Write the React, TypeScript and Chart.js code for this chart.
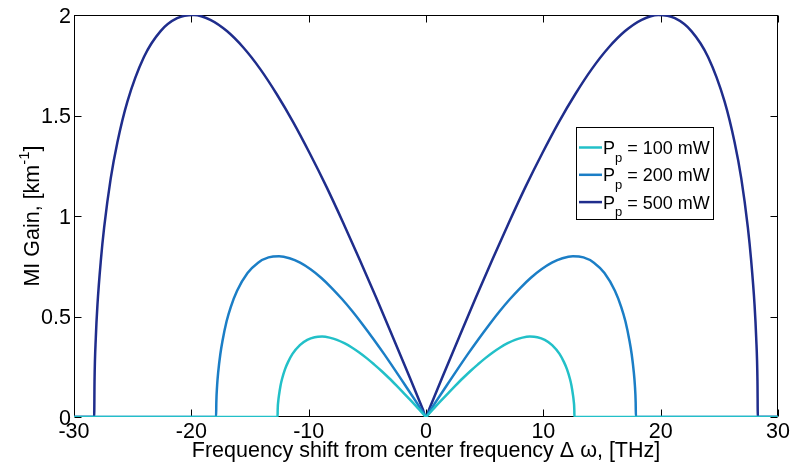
import React, { useEffect, useRef } from "react";
import { Chart, registerables } from "chart.js";

Chart.register(...registerables);

// Frequency shift (THz) and modulation-instability gain (1/km) per pump power
const P100_X = [-30, -12.65, -12.64, -12.59, -12.52, -12.40, -12.27, -12.02, -11.76, -11.38, -10.75, -10.12, -9.49, -8.85, -8.22, -7.59, -6.96, -6.32, -5.69, -5.06, -4.43, -3.79, -3.16, -2.53, -1.90, -1.26, -0.63, -0.13, 0, 0.13, 0.63, 1.26, 1.90, 2.53, 3.16, 3.79, 4.43, 5.06, 5.69, 6.32, 6.96, 7.59, 8.22, 8.85, 9.49, 10.12, 10.75, 11.38, 11.76, 12.02, 12.27, 12.40, 12.52, 12.59, 12.64, 12.65, 30];
const P100_G = [0, 0, 0.036, 0.079, 0.112, 0.156, 0.189, 0.237, 0.273, 0.314, 0.358, 0.384, 0.397, 0.400, 0.395, 0.384, 0.367, 0.346, 0.321, 0.293, 0.262, 0.229, 0.194, 0.157, 0.119, 0.080, 0.040, 0.008, 0, 0.008, 0.040, 0.080, 0.119, 0.157, 0.194, 0.229, 0.262, 0.293, 0.321, 0.346, 0.367, 0.384, 0.395, 0.400, 0.397, 0.384, 0.358, 0.314, 0.273, 0.237, 0.189, 0.156, 0.112, 0.079, 0.036, 0, 0];

const P200_X = [-30, -17.89, -17.87, -17.80, -17.71, -17.53, -17.35, -17.00, -16.64, -16.10, -15.21, -14.31, -13.42, -12.52, -11.63, -10.73, -9.84, -8.94, -8.05, -7.16, -6.26, -5.37, -4.47, -3.58, -2.68, -1.79, -0.89, -0.18, 0, 0.18, 0.89, 1.79, 2.68, 3.58, 4.47, 5.37, 6.26, 7.16, 8.05, 8.94, 9.84, 10.73, 11.63, 12.52, 13.42, 14.31, 15.21, 16.10, 16.64, 17.00, 17.35, 17.53, 17.71, 17.80, 17.87, 17.89, 30];
const P200_G = [0, 0, 0.071, 0.159, 0.223, 0.312, 0.377, 0.475, 0.547, 0.628, 0.716, 0.768, 0.794, 0.800, 0.790, 0.768, 0.735, 0.693, 0.643, 0.587, 0.525, 0.458, 0.387, 0.314, 0.237, 0.159, 0.080, 0.016, 0, 0.016, 0.080, 0.159, 0.237, 0.314, 0.387, 0.458, 0.525, 0.587, 0.643, 0.693, 0.735, 0.768, 0.790, 0.800, 0.794, 0.768, 0.716, 0.628, 0.547, 0.475, 0.377, 0.312, 0.223, 0.159, 0.071, 0, 0];

const P500_X = [-30, -28.28, -28.25, -28.14, -28.00, -27.71, -27.43, -26.87, -26.30, -25.45, -24.04, -22.62, -21.21, -19.80, -18.38, -16.97, -15.55, -14.14, -12.73, -11.31, -9.90, -8.48, -7.07, -5.66, -4.24, -2.83, -1.41, -0.28, 0, 0.28, 1.41, 2.83, 4.24, 5.66, 7.07, 8.48, 9.90, 11.31, 12.73, 14.14, 15.55, 16.97, 18.38, 19.80, 21.21, 22.62, 24.04, 25.45, 26.30, 26.87, 27.43, 27.71, 28.00, 28.14, 28.25, 28.28, 30];
const P500_G = [0, 0, 0.179, 0.397, 0.559, 0.780, 0.943, 1.187, 1.367, 1.569, 1.791, 1.920, 1.984, 2.000, 1.976, 1.920, 1.837, 1.732, 1.607, 1.466, 1.311, 1.145, 0.968, 0.784, 0.593, 0.398, 0.200, 0.040, 0, 0.040, 0.200, 0.398, 0.593, 0.784, 0.968, 1.145, 1.311, 1.466, 1.607, 1.732, 1.837, 1.920, 1.976, 2.000, 1.984, 1.920, 1.791, 1.569, 1.367, 1.187, 0.943, 0.780, 0.559, 0.397, 0.179, 0, 0];

const SERIES_POWER = ["100 mW", "200 mW", "500 mW"];
const SERIES_COLOR = ["#22C0C8", "#1B7EC6", "#1F2D8C"];

const X_TICKS = [-30, -20, -10, 0, 10, 20, 30];
const Y_TICKS = [0, 0.5, 1, 1.5, 2];

const X_TITLE = "Frequency shift from center frequency \u0394 \u03C9, [THz]";
const Y_TITLE_MAIN = "MI Gain, [km";
const Y_TITLE_SUP = "-1";
const Y_TITLE_END = "]";

const FONT = '"Liberation Sans", Arial, Helvetica, sans-serif';
const AXIS_PX = 21.5;

const toPoints = (xs: number[], ys: number[]) => xs.map((x, i) => ({ x, y: ys[i] }));

const framePlugin = {
  id: "matlabFrame",
  beforeDatasetsDraw(chart: any) {
    const { ctx, chartArea: a, scales } = chart;
    const L = Math.round(a.left) + 0.5;
    const R = Math.round(a.right) - 0.5;
    const T = Math.round(a.top) + 0.5;
    const B = Math.round(a.bottom) - 0.5;
    ctx.save();
    ctx.strokeStyle = "#000";
    ctx.lineWidth = 1;
    ctx.strokeRect(L, T, R - L, B - T);
    const len = 7;
    ctx.beginPath();
    for (const v of X_TICKS) {
      const px = Math.round(scales.x.getPixelForValue(v)) + 0.5;
      ctx.moveTo(px, B);
      ctx.lineTo(px, B - len);
      ctx.moveTo(px, T);
      ctx.lineTo(px, T + len);
    }
    for (const v of Y_TICKS) {
      const py = Math.round(scales.y.getPixelForValue(v)) + 0.5;
      ctx.moveTo(L, py);
      ctx.lineTo(L + len, py);
      ctx.moveTo(R, py);
      ctx.lineTo(R - len, py);
    }
    ctx.stroke();
    ctx.restore();
  },
  afterDraw(chart: any) {
    const { ctx, chartArea: a, scales } = chart;
    ctx.save();
    ctx.fillStyle = "#000";
    ctx.font = `${AXIS_PX}px ${FONT}`;

    // tick labels
    ctx.textAlign = "center";
    ctx.textBaseline = "alphabetic";
    for (const v of X_TICKS) {
      ctx.fillText(String(v), scales.x.getPixelForValue(v), a.bottom + 21);
    }
    ctx.textAlign = "right";
    for (const v of Y_TICKS) {
      ctx.fillText(String(v), a.left - 3, scales.y.getPixelForValue(v) + 7.6);
    }

    // x title
    ctx.textAlign = "center";
    ctx.fillText(X_TITLE, (a.left + a.right) / 2, 457);

    // y title with superscript
    ctx.save();
    ctx.translate(39, (a.top + a.bottom) / 2);
    ctx.rotate(-Math.PI / 2);
    ctx.textAlign = "left";
    ctx.font = `${AXIS_PX}px ${FONT}`;
    const w1 = ctx.measureText(Y_TITLE_MAIN).width;
    const w3 = ctx.measureText(Y_TITLE_END).width;
    ctx.font = `15px ${FONT}`;
    const w2 = ctx.measureText(Y_TITLE_SUP).width;
    const x0 = -(w1 + w2 + w3) / 2;
    ctx.font = `${AXIS_PX}px ${FONT}`;
    ctx.fillText(Y_TITLE_MAIN, x0, 0);
    ctx.font = `15px ${FONT}`;
    ctx.fillText(Y_TITLE_SUP, x0 + w1, -10);
    ctx.font = `${AXIS_PX}px ${FONT}`;
    ctx.fillText(Y_TITLE_END, x0 + w1 + w2, 0);
    ctx.restore();

    // legend
    const bx = 576.5, by = 127.5, bw = 137, bh = 92;
    ctx.fillStyle = "#fff";
    ctx.fillRect(bx, by, bw, bh);
    ctx.strokeStyle = "#000";
    ctx.lineWidth = 1;
    ctx.strokeRect(bx, by, bw, bh);
    for (let i = 0; i < SERIES_POWER.length; i++) {
      const ly = 147.5 + i * 27.3;
      ctx.strokeStyle = SERIES_COLOR[i];
      ctx.lineWidth = 2.5;
      ctx.beginPath();
      ctx.moveTo(579, ly);
      ctx.lineTo(602, ly);
      ctx.stroke();
      ctx.fillStyle = "#000";
      ctx.textAlign = "left";
      ctx.font = `18px ${FONT}`;
      ctx.fillText("P", 603, ly + 6.5);
      const wp = ctx.measureText("P").width;
      ctx.font = `13px ${FONT}`;
      ctx.fillText("p", 603 + wp, ly + 14);
      const ws = ctx.measureText("p").width;
      ctx.font = `18px ${FONT}`;
      ctx.fillText(" = " + SERIES_POWER[i], 603 + wp + ws, ly + 6.5);
    }
    ctx.restore();
  },
};

export default function App() {
  const canvasRef = useRef<HTMLCanvasElement | null>(null);

  useEffect(() => {
    const canvas = canvasRef.current;
    if (!canvas) return;
    const sets = [
      toPoints(P100_X, P100_G),
      toPoints(P200_X, P200_G),
      toPoints(P500_X, P500_G),
    ];
    const chart = new Chart(canvas, {
      type: "line",
      data: {
        datasets: sets.map((d, i) => ({
          label: "P_p = " + SERIES_POWER[i],
          data: d,
          borderColor: SERIES_COLOR[i],
          backgroundColor: SERIES_COLOR[i],
          borderWidth: 2.5,
          pointRadius: 0,
          cubicInterpolationMode: "monotone" as const,
          fill: false,
        })),
      },
      options: {
        responsive: false,
        animation: false,
        events: [],
        layout: { padding: { top: 15, right: 14, left: 0, bottom: 0 } },
        plugins: { legend: { display: false }, tooltip: { enabled: false } },
        scales: {
          x: {
            type: "linear",
            min: -30,
            max: 30,
            grid: { display: false },
            border: { display: false },
            ticks: { display: false },
            afterBuildTicks: (s: any) => {
              s.ticks = X_TICKS.map((value) => ({ value }));
            },
            afterFit: (s: any) => {
              s.height = 48;
            },
          },
          y: {
            type: "linear",
            min: 0,
            max: 2,
            grid: { display: false },
            border: { display: false },
            ticks: { display: false },
            afterBuildTicks: (s: any) => {
              s.ticks = Y_TICKS.map((value) => ({ value }));
            },
            afterFit: (s: any) => {
              s.width = 74;
            },
          },
        },
      },
      plugins: [framePlugin],
    });
    return () => chart.destroy();
  }, []);

  return (
    <div style={{ position: "absolute", left: 0, top: 0, width: 792, height: 465, background: "#fff" }}>
      <canvas ref={canvasRef} width={792} height={465} style={{ display: "block", width: 792, height: 465 }} />
    </div>
  );
}
